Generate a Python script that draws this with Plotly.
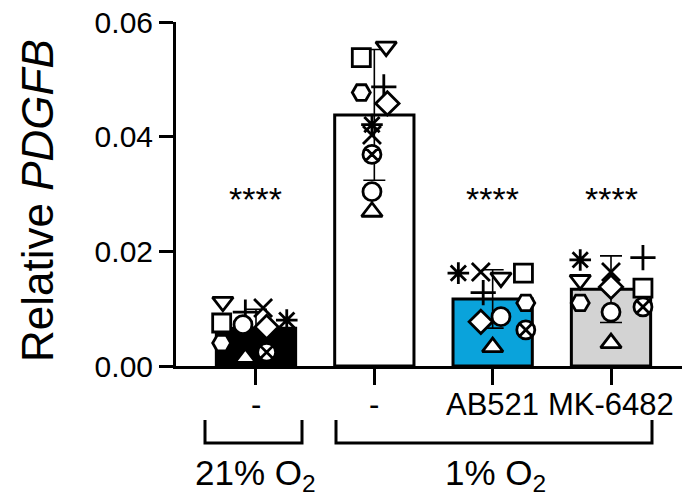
import plotly.graph_objects as go

# ---- data ----
group_labels = ["-", "-", "AB521", "MK-6482"]
bar_means = [0.0066, 0.0438, 0.0117, 0.0134]
bar_sd = [0.0033, 0.0114, 0.0051, 0.0058]
bar_colors = ["#000000", "#FFFFFF", "#0AA3DB", "#D3D3D3"]
stars = ["****", "", "****", "****"]

symbols = ["triangle-down", "square", "hexagon2", "cross-thin-open", "diamond",
           "asterisk-open", "x-thin-open", "circle-x", "circle", "triangle-up"]

g1_vals = [0.0112, 0.0075, 0.0040, 0.0094, 0.0068, 0.0080, 0.0101, 0.0024, 0.0072, 0.0014]
g2_vals = [0.0557, 0.0538, 0.0477, 0.0487, 0.0458, 0.0421, 0.0403, 0.0369, 0.0304, 0.0269]
g3_vals = [0.0154, 0.0162, 0.0110, 0.0128, 0.0077, 0.0162, 0.0164, 0.0063, 0.0086, 0.0033]
g4_vals = [0.0150, 0.0136, 0.0110, 0.0189, 0.0138, 0.0185, 0.0164, 0.0103, 0.0094, 0.0040]
point_values = [g1_vals, g2_vals, g3_vals, g4_vals]

# horizontal scatter of the points (category units)
g1_off = [-0.28, -0.29, -0.29, -0.09, 0.09, 0.26, 0.06, 0.09, -0.11, -0.09]
g2_off = [0.10, -0.11, -0.11, 0.08, 0.11, -0.02, -0.02, -0.02, -0.02, -0.02]
g3_off = [0.07, 0.26, 0.28, -0.08, -0.10, -0.29, -0.10, 0.28, 0.07, 0.0]
g4_off = [-0.26, 0.27, -0.26, 0.27, 0.0, -0.26, 0.0, 0.27, 0.0, 0.0]
point_offsets = [g1_off, g2_off, g3_off, g4_off]

FONT = "Liberation Sans, Arial, sans-serif"
W, H = 682, 499
L, R, T, B = 176, 0, 22, 133

fig = go.Figure()
xpos = list(range(len(group_labels)))

fig.add_trace(go.Bar(
    x=xpos, y=bar_means, width=0.67,
    marker=dict(color=bar_colors, line=dict(color="black", width=3)),
    error_y=dict(type="data", array=bar_sd, visible=True, color="black",
                 thickness=1.6, width=11),
    showlegend=False, hoverinfo="skip",
))

# open (line-only) symbols take their stroke from marker.color
fill_colors = ["black" if s.endswith("-open") else "white" for s in symbols]

for gi, (vals, offs) in enumerate(zip(point_values, point_offsets)):
    fig.add_trace(go.Scatter(
        x=[gi + o for o in offs], y=vals, mode="markers",
        marker=dict(symbol=symbols, size=18, color=fill_colors,
                    line=dict(color="black", width=2.8)),
        cliponaxis=False, showlegend=False, hoverinfo="skip",
    ))

pw = W - L - R
ph = H - T - B

def px_x(p):
    return (p - L) / pw

def px_y(p):
    return (H - B - p) / ph

annotations = []
for gi, s in enumerate(stars):
    if s:
        annotations.append(dict(x=gi, y=0.0292, xref="x", yref="y", text=s,
                                showarrow=False, font=dict(size=34, color="black", family=FONT),
                                xanchor="center", yanchor="middle"))

# category labels under the axis
for gi, lab in enumerate(group_labels):
    annotations.append(dict(x=gi, y=px_y(404), xref="x", yref="paper", text=lab,
                            showarrow=False, font=dict(size=31, color="black", family=FONT),
                            xanchor="center", yanchor="middle"))

annotations.append(dict(x=px_x(37), y=px_y(201), xref="paper", yref="paper",
                        text="Relative <i>PDGFB</i>", textangle=-90, showarrow=False,
                        font=dict(size=44, color="black", family=FONT),
                        xanchor="center", yanchor="middle"))
annotations.append(dict(x=px_x(255), y=px_y(475), xref="paper", yref="paper",
                        text="21% O<sub>2</sub>", showarrow=False,
                        font=dict(size=35, color="black", family=FONT),
                        xanchor="center", yanchor="middle"))
annotations.append(dict(x=px_x(495), y=px_y(475), xref="paper", yref="paper",
                        text="1% O<sub>2</sub>", showarrow=False,
                        font=dict(size=35, color="black", family=FONT),
                        xanchor="center", yanchor="middle"))

shapes = []
for x0, x1 in [(205, 302), (336, 652)]:
    shapes.append(dict(type="path", xref="paper", yref="paper",
                       path=f"M {px_x(x0)} {px_y(420)} L {px_x(x0)} {px_y(443)} L {px_x(x1)} {px_y(443)} L {px_x(x1)} {px_y(420)}",
                       line=dict(color="black", width=3)))

fig.update_layout(
    width=W, height=H,
    margin=dict(l=L, r=R, t=T, b=B, pad=0),
    paper_bgcolor="white", plot_bgcolor="white",
    annotations=annotations, shapes=shapes,
    xaxis=dict(range=[-0.676, 3.6], tickvals=xpos, showticklabels=False,
               showline=True, linecolor="black", linewidth=3,
               ticks="outside", ticklen=16, tickwidth=3, tickcolor="black",
               showgrid=False, zeroline=False),
    yaxis=dict(range=[0, 0.06], tickvals=[0, 0.02, 0.04, 0.06],
               ticktext=["0.00", "0.02", "0.04", "0.06"],
               showline=True, linecolor="black", linewidth=3,
               ticks="outside", ticklen=14, tickwidth=3, tickcolor="black",
               showgrid=False, zeroline=False,
               tickfont=dict(size=30, color="black", family=FONT)),
)

fig.write_html("out.html")
